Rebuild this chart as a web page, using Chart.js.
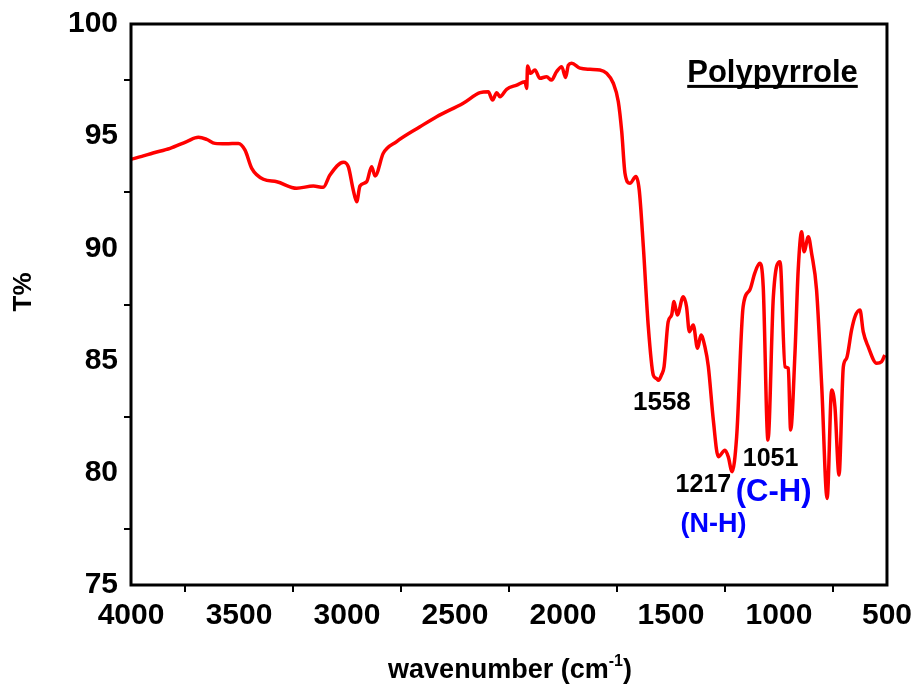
<!DOCTYPE html>
<html>
<head>
<meta charset="utf-8">
<script src="https://cdn.jsdelivr.net/npm/chart.js@4/dist/chart.umd.min.js"></script>
<style>
  html, body { margin: 0; padding: 0; background: #fff; }
</style>
</head>
<body>
<canvas id="ftir" width="918" height="687"></canvas>
<script>
// FTIR spectrum of polypyrrole
const wavenumber = [
  4000, 3950, 3898, 3819, 3742, 3688, 3650, 3611, 3560, 3503,
  3472, 3441, 3387, 3325, 3233, 3156, 3110, 3079, 3017, 2994,
  2971, 2955, 2940, 2909, 2886, 2870, 2832, 2770, 2662, 2585,
  2462, 2384, 2346, 2326, 2307, 2292, 2261, 2214, 2176, 2168,
  2164, 2150, 2130, 2107, 2076, 2053, 2030, 2006, 1988, 1975,
  1960, 1921, 1875, 1829, 1798, 1767, 1744, 1728, 1713, 1690,
  1662, 1647, 1628, 1605, 1582, 1567, 1558, 1544, 1532, 1513,
  1497, 1486, 1471, 1443, 1428, 1415, 1397, 1377, 1361, 1343,
  1327, 1304, 1281, 1250, 1235, 1217, 1196, 1166, 1135, 1112,
  1089, 1073, 1051, 1026, 995, 972, 957, 946, 926, 911,
  895, 884, 864, 849, 826, 802, 777, 756, 741, 722,
  702, 687, 664, 648, 625, 610, 587, 548, 525, 510
];
const transmittance = [
  93.97, 94.10, 94.25, 94.46, 94.76, 94.95, 94.86, 94.68, 94.66, 94.68,
  94.38, 93.57, 93.08, 92.97, 92.68, 92.78, 92.72, 93.27, 93.84, 93.64,
  92.60, 92.08, 92.78, 92.97, 93.64, 93.23, 94.24, 94.76, 95.42, 95.87,
  96.47, 96.94, 96.98, 96.61, 96.94, 96.76, 97.09, 97.28, 97.43, 97.13,
  98.13, 97.80, 97.95, 97.58, 97.65, 97.50, 97.87, 98.10, 97.62, 98.17,
  98.25, 98.03, 97.98, 97.95, 97.80, 97.36, 96.55, 95.20, 93.35, 92.90,
  93.20, 92.60, 90.08, 86.51, 84.36, 84.20, 84.12, 84.36, 84.73, 86.73,
  87.03, 87.63, 87.03, 87.85, 87.40, 86.29, 86.59, 85.55, 86.14, 85.62,
  84.73, 82.35, 80.72, 81.00, 80.72, 80.05, 81.60, 87.40, 88.15, 88.90,
  89.34, 88.30, 81.46, 87.85, 89.41, 84.73, 84.66, 81.91, 85.32, 89.04,
  90.74, 89.85, 90.52, 89.78, 88.15, 83.84, 78.86, 83.69, 82.95, 79.90,
  84.73, 85.10, 86.36, 86.96, 87.25, 86.29, 85.62, 84.88, 84.95, 85.25
];

// peak labels: text, anchor wavenumber, anchor T%, colour, font size
const peakLabels = [
  { text: '1558',  wn: 1542, t: 82.80, color: '#000', size: 26 },
  { text: '1217',  wn: 1350, t: 79.14, color: '#000', size: 25 },
  { text: '1051',  wn: 1039, t: 80.30, color: '#000', size: 25 },
  { text: '(C-H)', wn: 1025, t: 78.74, color: '#0000ff', size: 31 },
  { text: '(N-H)', wn: 1303, t: 77.36, color: '#0000ff', size: 27 }
];

const FONT = '"Liberation Sans", Arial, sans-serif';

const points = wavenumber.map((w, i) => ({ x: w, y: transmittance[i] }));

const decorations = {
  id: 'decorations',
  afterDraw(chart) {
    const { ctx, chartArea: a, scales } = chart;
    ctx.save();

    // box around plot
    ctx.strokeStyle = '#000';
    ctx.lineWidth = 3;
    ctx.strokeRect(a.left, a.top, a.right - a.left, a.bottom - a.top);

    ctx.textBaseline = 'alphabetic';
    ctx.textAlign = 'center';

    // peak labels
    peakLabels.forEach(p => {
      ctx.font = 'bold ' + p.size + 'px ' + FONT;
      ctx.fillStyle = p.color;
      ctx.fillText(p.text, scales.x.getPixelForValue(p.wn), scales.y.getPixelForValue(p.t));
    });

    // sample name, underlined
    ctx.font = 'bold 31px ' + FONT;
    ctx.fillStyle = '#000';
    const nameX = scales.x.getPixelForValue(1030);
    const nameY = scales.y.getPixelForValue(97.42);
    ctx.fillText('Polypyrrole', nameX, nameY);
    const nw = ctx.measureText('Polypyrrole').width;
    ctx.fillRect(nameX - nw / 2, nameY + 3, nw, 3);

    // x-axis title with superscript
    const main = 'wavenumber (cm';
    const sup = '-1';
    ctx.font = 'bold 27px ' + FONT;
    const w1 = ctx.measureText(main).width;
    const w3 = ctx.measureText(')').width;
    ctx.font = 'bold 16px ' + FONT;
    const w2 = ctx.measureText(sup).width;
    const total = w1 + w2 + w3;
    const cx = (a.left + a.right) / 2 + 1;
    const x0 = cx - total / 2;
    const by = 678;
    ctx.textAlign = 'left';
    ctx.font = 'bold 27px ' + FONT;
    ctx.fillText(main, x0, by);
    ctx.font = 'bold 16px ' + FONT;
    ctx.fillText(sup, x0 + w1, by - 12);
    ctx.font = 'bold 27px ' + FONT;
    ctx.fillText(')', x0 + w1 + w2, by);

    // y-axis title
    ctx.translate(24, 292);
    ctx.rotate(-Math.PI / 2);
    ctx.textAlign = 'center';
    ctx.textBaseline = 'middle';
    ctx.font = 'bold 26px ' + FONT;
    ctx.fillText('T%', 0, 0);

    ctx.restore();
  }
};

// tick marks only between the labelled values
const minorColor = step => ctx =>
  ctx.tick && Math.abs(ctx.tick.value % step) > 1e-6 ? '#000' : 'rgba(0,0,0,0)';

new Chart('ftir', {
  type: 'line',
  data: {
    datasets: [{
      data: points,
      borderColor: '#ff0000',
      borderWidth: 3.5,
      pointRadius: 0,
      fill: false,
      cubicInterpolationMode: 'monotone'
    }]
  },
  options: {
    responsive: false,
    animation: false,
    layout: { padding: { top: 24, right: 31, left: 0, bottom: 0 } },
    plugins: { legend: { display: false }, tooltip: { enabled: false } },
    scales: {
      x: {
        type: 'linear',
        reverse: true,
        min: 500,
        max: 4000,
        afterFit: s => { s.height = 102; },
        border: { display: false },
        grid: {
          drawOnChartArea: false,
          drawTicks: true,
          tickLength: 7,
          lineWidth: 2,
          color: minorColor(500)
        },
        ticks: {
          stepSize: 250,
          autoSkip: false,
          maxRotation: 0,
          padding: 6,
          color: '#000',
          font: { family: FONT, size: 30, weight: 'bold' },
          callback: v => (v % 500 === 0 ? v : '')
        }
      },
      y: {
        min: 75,
        max: 100,
        afterFit: s => { s.width = 131; },
        border: { display: false },
        grid: {
          drawOnChartArea: false,
          drawTicks: true,
          tickLength: 7,
          lineWidth: 2,
          color: minorColor(5)
        },
        ticks: {
          stepSize: 2.5,
          autoSkip: false,
          padding: 6,
          color: '#000',
          font: { family: FONT, size: 30, weight: 'bold' },
          callback: v => (v % 5 === 0 ? v : '')
        }
      }
    }
  },
  plugins: [decorations]
});
</script>
</body>
</html>
